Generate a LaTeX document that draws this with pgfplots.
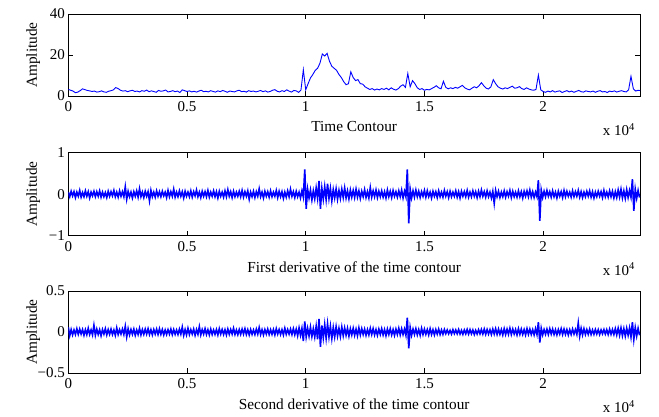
\documentclass[border=0pt]{standalone}
\usepackage{fontspec}
\setmainfont{Liberation Serif}
\usepackage{pgfplots}
\usepackage{pgfplotstable}
\pgfplotsset{compat=1.18}
\definecolor{mblue}{RGB}{0,0,255}

\pgfplotstableread[header=false,row sep=crcr]{
3.2\\2.8\\2.4\\1.6\\1.9\\2.6\\3.5\\3.1\\2.7\\2.5\\
2.2\\2.4\\1.9\\2.1\\2.5\\2.0\\1.8\\2.3\\2.6\\3.0\\
4.1\\3.6\\2.8\\2.4\\2.6\\2.1\\2.5\\2.8\\2.2\\2.4\\
2.0\\2.6\\2.3\\2.9\\2.1\\2.5\\2.2\\1.8\\2.7\\2.3\\
2.5\\2.9\\2.0\\2.2\\2.6\\2.1\\2.4\\1.7\\3.0\\2.6\\
2.2\\2.5\\2.0\\2.3\\1.9\\2.4\\2.8\\2.1\\2.3\\2.0\\
2.6\\2.2\\1.9\\2.5\\2.1\\2.7\\2.3\\1.8\\2.4\\2.2\\
2.0\\2.5\\2.8\\2.1\\2.3\\1.9\\2.6\\2.2\\2.4\\2.0\\
2.3\\2.7\\2.1\\2.5\\1.9\\2.2\\2.8\\3.1\\2.3\\2.0\\
2.6\\2.2\\3.0\\2.4\\1.9\\2.7\\2.5\\1.8\\2.9\\12.8\\
3.0\\6.0\\8.8\\10.5\\12.5\\13.5\\16.0\\20.5\\19.5\\20.8\\
17.0\\14.5\\13.5\\12.5\\10.5\\9.0\\7.0\\5.5\\6.0\\11.8\\
9.0\\7.5\\8.0\\6.0\\5.8\\4.5\\3.8\\3.2\\3.6\\2.9\\
3.4\\3.0\\3.6\\3.2\\3.8\\3.0\\4.0\\3.3\\2.9\\3.6\\
4.8\\5.5\\4.2\\11.0\\4.5\\7.5\\6.0\\4.0\\3.2\\3.6\\
2.8\\3.2\\3.0\\3.6\\4.2\\5.0\\4.0\\3.5\\7.2\\4.2\\
3.5\\4.0\\3.6\\4.2\\3.8\\4.5\\5.2\\4.0\\3.4\\3.0\\
3.8\\4.5\\4.0\\5.0\\6.5\\5.0\\3.8\\3.4\\4.5\\8.0\\
6.0\\4.5\\3.8\\3.4\\4.0\\3.6\\4.2\\4.8\\3.8\\4.0\\
4.6\\3.6\\3.2\\4.0\\3.4\\3.0\\2.8\\3.2\\10.2\\3.0\\
2.2\\1.8\\2.4\\2.0\\2.6\\1.9\\2.3\\2.5\\1.7\\2.2\\
2.6\\2.0\\2.4\\1.8\\2.3\\2.7\\2.1\\1.9\\2.5\\2.2\\
2.0\\2.4\\1.8\\2.3\\2.6\\2.0\\2.2\\1.7\\2.4\\2.1\\
2.5\\1.9\\2.3\\2.6\\2.2\\2.0\\3.0\\9.6\\3.5\\2.4\\
2.8\\2.6\\}\toptable

\pgfplotstableread[header=false,row sep=crcr]{
5\\-6\\7\\-4\\6\\-8\\5\\-5\\9\\-7\\4\\-6\\8\\-5\\6\\-9\\5\\-4\\7\\-6\\
6\\-5\\8\\-7\\5\\-6\\4\\-8\\7\\-5\\6\\-4\\9\\-6\\5\\-7\\8\\-5\\6\\-6\\
18\\-12\\7\\-6\\5\\-9\\6\\-5\\8\\-7\\13\\-6\\5\\-8\\7\\-5\\6\\-16\\9\\-6\\
5\\-7\\8\\-5\\6\\-6\\7\\-4\\5\\-8\\9\\-6\\6\\-5\\12\\-7\\5\\-6\\8\\-5\\
6\\-9\\7\\-5\\5\\-6\\8\\-7\\6\\-4\\10\\-6\\5\\-8\\7\\-5\\6\\-6\\9\\-7\\
5\\-5\\8\\-6\\6\\-9\\7\\-5\\5\\-7\\8\\-6\\11\\-5\\6\\-8\\7\\-6\\5\\-5\\
7\\-6\\9\\-7\\6\\-5\\8\\-12\\5\\-6\\7\\-8\\6\\-5\\13\\-6\\5\\-9\\7\\-5\\
6\\-7\\8\\-6\\5\\-5\\9\\-8\\7\\-6\\6\\-10\\5\\-7\\8\\-6\\12\\-5\\6\\-8\\
7\\-6\\5\\-9\\8\\-7\\60\\-35\\12\\-9\\10\\-14\\8\\-11\\15\\-10\\32\\-35\\14\\-12\\
18\\-13\\25\\-10\\14\\-16\\11\\-9\\13\\-12\\9\\-10\\12\\-8\\15\\-9\\8\\-11\\10\\-7\\
9\\-8\\12\\-7\\8\\-10\\7\\-6\\11\\-8\\6\\-9\\16\\-7\\8\\-6\\10\\-8\\7\\-6\\
8\\-7\\6\\-9\\10\\-6\\7\\-8\\9\\-5\\6\\-7\\8\\-6\\10\\-9\\7\\-6\\60\\-70\\
12\\-9\\8\\-7\\10\\-6\\7\\-8\\6\\-5\\9\\-7\\8\\-6\\5\\-9\\7\\-5\\6\\-8\\
8\\-6\\5\\-7\\9\\-5\\6\\-8\\7\\-6\\5\\-5\\8\\-7\\6\\-9\\7\\-5\\6\\-6\\
9\\-7\\5\\-6\\8\\-5\\6\\-8\\7\\-6\\10\\-5\\6\\-7\\8\\-6\\5\\-9\\7\\-22\\
9\\-6\\7\\-8\\5\\-6\\8\\-7\\6\\-5\\9\\-8\\7\\-6\\5\\-7\\8\\-6\\6\\-9\\
7\\-5\\8\\-6\\10\\-7\\6\\-8\\5\\-6\\34\\-64\\10\\-8\\7\\-6\\9\\-5\\6\\-7\\
8\\-6\\5\\-9\\7\\-5\\6\\-8\\9\\-6\\7\\-5\\5\\-7\\8\\-6\\6\\-5\\9\\-7\\
6\\-8\\5\\-6\\7\\-5\\8\\-7\\6\\-9\\5\\-6\\7\\-5\\6\\-8\\9\\-6\\5\\-7\\
8\\-6\\7\\-9\\6\\-8\\10\\-7\\12\\-9\\8\\-10\\11\\-8\\9\\-7\\36\\-40\\12\\-10\\
9\\-8\\}\midtable

\pgfplotstableread[header=false,row sep=crcr]{
60\\-45\\30\\-35\\25\\-30\\40\\-28\\35\\-25\\30\\-40\\28\\-32\\45\\-30\\25\\-35\\82\\-40\\
35\\-30\\28\\-45\\30\\-25\\40\\-35\\30\\-28\\35\\-30\\25\\-40\\50\\-30\\28\\-25\\35\\-30\\
70\\-60\\40\\-35\\30\\-28\\35\\-40\\25\\-30\\45\\-35\\30\\-28\\35\\-25\\40\\-30\\28\\-35\\
30\\-25\\35\\-30\\40\\-28\\30\\-35\\25\\-30\\28\\-25\\35\\-32\\30\\-28\\25\\-30\\35\\-25\\
60\\-40\\30\\-35\\45\\-30\\28\\-25\\35\\-40\\30\\-28\\65\\-35\\30\\-25\\40\\-30\\28\\-35\\
35\\-30\\25\\-28\\30\\-35\\40\\-25\\30\\-30\\28\\-35\\35\\-28\\30\\-25\\45\\-30\\25\\-32\\
30\\-28\\35\\-25\\40\\-30\\28\\-35\\30\\-28\\25\\-30\\35\\-25\\55\\-30\\28\\-35\\30\\-25\\
35\\-30\\28\\-28\\30\\-35\\40\\-25\\30\\-30\\28\\-35\\45\\-28\\30\\-25\\35\\-30\\40\\-32\\
35\\-45\\50\\-40\\45\\-110\\128\\-60\\45\\-50\\60\\-55\\40\\-60\\70\\-90\\160\\-180\\80\\-70\\
90\\-75\\100\\-60\\70\\-80\\55\\-60\\65\\-50\\45\\-55\\60\\-45\\50\\-40\\45\\-50\\40\\-35\\
45\\-40\\35\\-45\\50\\-35\\40\\-30\\35\\-40\\30\\-35\\45\\-30\\40\\-35\\30\\-40\\35\\-30\\
40\\-35\\30\\-45\\35\\-30\\40\\-35\\30\\-40\\35\\-30\\45\\-35\\40\\-30\\35\\-40\\175\\-200\\
55\\-40\\35\\-30\\40\\-35\\30\\-40\\45\\-30\\35\\-28\\30\\-35\\40\\-30\\28\\-35\\30\\-25\\
35\\-30\\25\\-28\\30\\-20\\25\\-22\\20\\-25\\28\\-20\\25\\-22\\30\\-25\\20\\-28\\25\\-22\\
30\\-25\\28\\-22\\25\\-30\\20\\-25\\28\\-22\\30\\-25\\35\\-28\\30\\-25\\28\\-30\\35\\-25\\
40\\-30\\35\\-28\\30\\-35\\40\\-30\\35\\-28\\45\\-30\\35\\-25\\30\\-35\\40\\-28\\35\\-30\\
30\\-35\\40\\-28\\35\\-30\\28\\-35\\40\\-30\\120\\-130\\45\\-35\\30\\-28\\35\\-30\\40\\-25\\
35\\-30\\28\\-35\\30\\-25\\40\\-30\\35\\-28\\30\\-35\\28\\-30\\35\\-25\\30\\-28\\110\\-50\\
45\\-35\\40\\-30\\30\\-28\\35\\-30\\25\\-28\\30\\-25\\28\\-30\\25\\-22\\30\\-25\\28\\-30\\
35\\-28\\30\\-30\\40\\-35\\45\\-40\\50\\-45\\40\\-50\\45\\-40\\50\\-60\\120\\-90\\55\\-50\\
45\\-40\\}\bottable

\pgfplotsset{
  mstyle/.style={
    scale only axis, width=571.7pt, height=82pt,
    xmin=0, xmax=24080,
    xtick={0,5000,10000,15000,20000},
    xticklabels={0,0.5,1,1.5,2},
    scaled x ticks=false, scaled y ticks=false,
    tick align=inside, major tick length=5pt,
    tick style={black, line width=0.6pt},
    axis line style={line width=0.8pt},
    ticklabel style={font=\fontsize{15}{17}\selectfont},
    xticklabel style={yshift=-2pt},
    every axis x label/.style={at={(rel axis cs:0.5,0)}, anchor=center, yshift=-31pt, font=\fontsize{15.3}{17}\selectfont},
    every axis y label/.style={at={(rel axis cs:0,0.5)}, xshift=-35pt, rotate=90, anchor=center, font=\fontsize{15.3}{17}\selectfont},
    /pgf/number format/assume math mode=true,
    clip=true,
  },
  xten/.style={
    after end axis/.code={
      \node[anchor=north east, inner sep=0pt, font=\fontsize{15}{17}\selectfont] at (rel axis cs:1,0) [xshift=-5pt, yshift=-27pt] {x 10\textsuperscript{4}};
    }
  }
}

\begin{document}
\begin{tikzpicture}
\path[use as bounding box] (-68.3pt,-44pt) rectangle (590.7pt,373pt);

\begin{axis}[mstyle, xten, at={(0pt,277pt)}, anchor=south west,
  ymin=0, ymax=40, ytick={0,20,40},
  xlabel={Time Contour}, ylabel={Amplitude}]
\addplot[mblue, line width=0.9pt, mark=none] table[x expr=\coordindex*100, y index=0] {\toptable};
\end{axis}

\begin{axis}[mstyle, xten, at={(0pt,137.3pt)}, anchor=south west, height=83pt,
  ymin=-100, ymax=100, ytick={-100,0,100}, yticklabels={−1,0,1},
  xlabel={First derivative of the time contour}, ylabel={Amplitude}]
\addplot[mblue, line width=1.6pt, mark=none] table[x expr=\coordindex*60, y index=0] {\midtable};
\end{axis}

\begin{axis}[mstyle, xten, at={(0pt,0pt)}, anchor=south west,
  ymin=-500, ymax=500, ytick={-500,0,500}, yticklabels={−0.5,0,0.5},
  xlabel={Second derivative of the time contour}, ylabel={Amplitude}]
\addplot[mblue, line width=1.6pt, mark=none] table[x expr=\coordindex*60, y index=0] {\bottable};
\end{axis}
\end{tikzpicture}
\end{document}
